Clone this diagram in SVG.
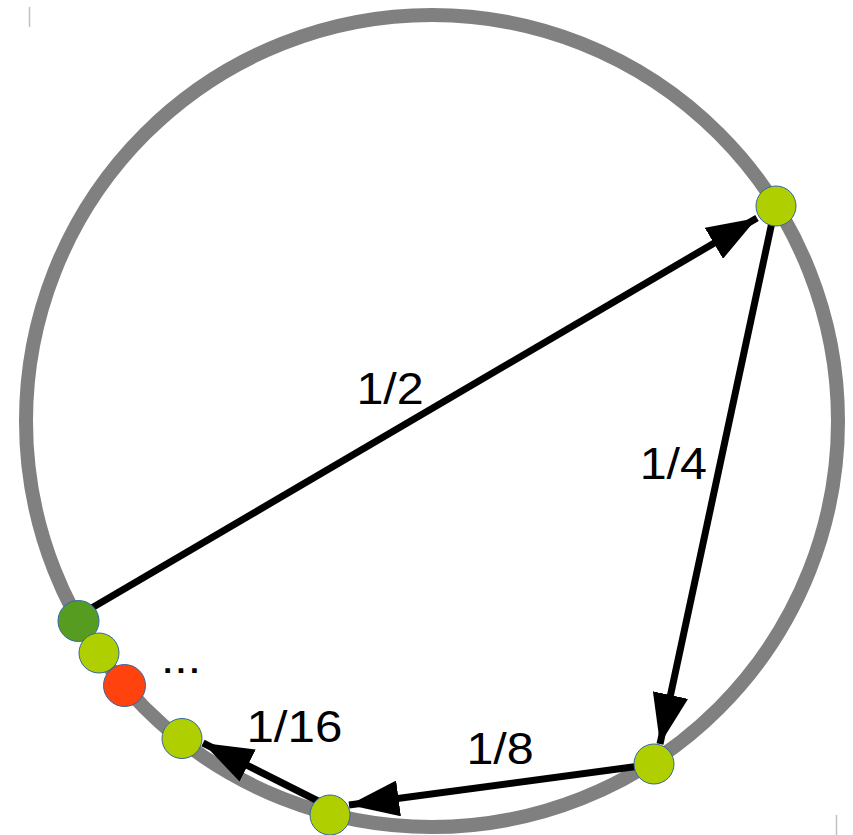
<svg xmlns="http://www.w3.org/2000/svg" width="853" height="835" viewBox="0 0 853 835">
<style>
.ring{fill:none;stroke:#808080;stroke-width:14}
.arr{stroke:#000;stroke-width:7;fill:none;marker-end:url(#ah)}
.node{stroke:#3465a4;stroke-width:1}
.lg{fill:#b0cf00}
.dg{fill:#569c21}
.rd{fill:#ff420e}
.lbl{font-family:"Liberation Sans",Arial,sans-serif;font-size:44px;fill:#000}
.mark{stroke:#c0c0c0;stroke-width:1.5}
</style>
<defs>
<marker id="ah" markerUnits="userSpaceOnUse" markerWidth="50" markerHeight="36" refX="50" refY="18" orient="auto" viewBox="0 0 50 36">
<path d="M0,0 L50,18 L0,36 Z" fill="#000"/>
</marker>
</defs>
<line class="mark" x1="29.5" y1="7" x2="29.5" y2="27"/>
<line class="mark" x1="836.5" y1="815" x2="836.5" y2="835"/>
<circle class="ring" cx="432" cy="421" r="406"/>
<g id="connectors">
<line class="arr" x1="90" y1="609" x2="757" y2="218"/>
<line class="arr" x1="772" y1="222" x2="660" y2="744"/>
<line class="arr" x1="640" y1="766" x2="349" y2="805"/>
<line class="arr" x1="322" y1="803" x2="203" y2="743"/>
</g>
<g id="n1"><circle class="node lg" cx="776" cy="206" r="20"/></g>
<g id="n0"><circle class="node dg" cx="78.5" cy="621" r="20.5"/></g>
<g id="n5"><circle class="node lg" cx="99" cy="653" r="20"/></g>
<g id="n6"><circle class="node rd" cx="124.5" cy="685.5" r="21"/></g>
<g id="n4"><circle class="node lg" cx="182" cy="738.5" r="20"/></g>
<g id="n3"><circle class="node lg" cx="330" cy="815" r="20"/></g>
<g id="n2"><circle class="node lg" cx="654" cy="764" r="20"/></g>
<g id="labels">
<text class="lbl" x="356.4" y="404" textLength="67.3" lengthAdjust="spacingAndGlyphs">1/2</text>
<text class="lbl" x="639.7" y="479" textLength="67.3" lengthAdjust="spacingAndGlyphs">1/4</text>
<text class="lbl" x="466.4" y="763.5" textLength="67.3" lengthAdjust="spacingAndGlyphs">1/8</text>
<text class="lbl" x="246.4" y="741.5" textLength="95.9" lengthAdjust="spacingAndGlyphs">1/16</text>
<text class="lbl" x="161" y="673" textLength="40" lengthAdjust="spacingAndGlyphs">...</text>
</g>
</svg>
